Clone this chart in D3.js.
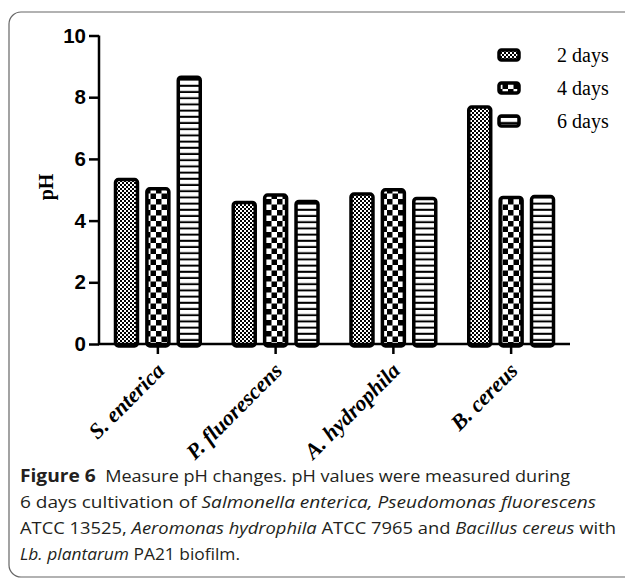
<!DOCTYPE html>
<html><head><meta charset="utf-8">
<script src="https://cdn.jsdelivr.net/npm/d3@7"></script>
<style>body{margin:0;background:#fff}svg{display:block}</style>
</head><body>
<svg id="c" width="625" height="579"></svg>
<script>
const categories = ["S. enterica", "P. fluorescens", "A. hydrophila", "B. cereus"];
const seriesNames = ["2 days", "4 days", "6 days"];
const day2 = [5.33, 4.59, 4.86, 7.68];
const day4 = [5.03, 4.83, 5.00, 4.75];
const day6 = [8.65, 4.62, 4.72, 4.78];
const yTicks = [0, 2, 4, 6, 8, 10];
const seriesValues = [day2, day4, day6];

const svg = d3.select("#c");
const defs = svg.append("defs");
// fine checker
const p2 = defs.append("pattern").attr("id","p0").attr("patternUnits","userSpaceOnUse").attr("width",4).attr("height",4);
p2.append("rect").attr("width",4).attr("height",4).attr("fill","#fff");
p2.append("rect").attr("width",2).attr("height",2).attr("fill","#000");
p2.append("rect").attr("x",2).attr("y",2).attr("width",2).attr("height",2).attr("fill","#000");
// coarse checker
const p4 = defs.append("pattern").attr("id","p1").attr("patternUnits","userSpaceOnUse").attr("width",11).attr("height",11).attr("x",2).attr("y",1);
p4.append("rect").attr("width",11).attr("height",11).attr("fill","#fff");
p4.append("rect").attr("width",5.5).attr("height",5.5).attr("fill","#000");
p4.append("rect").attr("x",5.5).attr("y",5.5).attr("width",5.5).attr("height",5.5).attr("fill","#000");
// horizontal stripes
const p6 = defs.append("pattern").attr("id","p2").attr("patternUnits","userSpaceOnUse").attr("width",6).attr("height",6.2);
p6.append("rect").attr("width",6).attr("height",6.2).attr("fill","#fff");
p6.append("rect").attr("y",4.2).attr("width",6).attr("height",2).attr("fill","#000");

// frame
svg.append("rect").attr("x",9).attr("y",12).attr("width",640).attr("height",565).attr("rx",12)
  .attr("fill","none").attr("stroke","#666").attr("stroke-width",1.2);

const x0 = d3.scaleBand().domain(categories).range([99, 570]);
const x1 = d3.scaleBand().domain(seriesNames).range([16.5, 101.25]).paddingInner(0.3);
const y = d3.scaleLinear().domain([0, 10]).range([344, 35.5]);

const data = [];
categories.forEach((c, i) => seriesNames.forEach((s, j) => data.push({c, s, j, v: seriesValues[j][i]})));

svg.append("g").selectAll("rect").data(data).join("rect")
  .attr("x", d => x0(d.c) + x1(d.s))
  .attr("y", d => y(d.v))
  .attr("width", x1.bandwidth())
  .attr("height", d => y(0) - y(d.v) + 2)
  .attr("rx", 3)
  .attr("fill", d => `url(#p${d.j})`)
  .attr("stroke", "#000").attr("stroke-width", 3.5);

// axes
const yAxis = svg.append("g").attr("transform","translate(99,0)")
  .call(d3.axisLeft(y).tickValues(yTicks).tickSize(10).tickSizeOuter(0).tickPadding(3));
yAxis.select(".domain").attr("stroke-width",2.5).attr("d","M0,"+y(10)+"V"+(y(0)+1));
yAxis.selectAll(".tick line").attr("stroke-width",2.5);
yAxis.selectAll(".tick text").attr("font-family","Liberation Sans, Arial").attr("font-weight","bold").attr("font-size",20.5).attr("fill","#000");

const xAxis = svg.append("g").attr("transform","translate(0,344)")
  .call(d3.axisBottom(x0).tickSize(10).tickSizeOuter(0));
xAxis.select(".domain").attr("stroke-width",2.5).attr("d","M98,0H570");
xAxis.selectAll(".tick line").attr("stroke-width",2.5);
xAxis.selectAll(".tick text")
  .attr("font-family","Liberation Serif, Times New Roman").attr("font-weight","bold").attr("font-style","italic")
  .attr("font-size",22).attr("fill","#000")
  .attr("text-anchor","end").attr("dy",0).attr("y",0)
  .attr("transform","translate(8,28) rotate(-45)");
svg.selectAll(".domain").attr("stroke","#000");
svg.selectAll(".tick line").attr("stroke","#000");

// y label
svg.append("text").attr("transform","translate(53,187) rotate(-90)").attr("text-anchor","middle")
  .attr("font-family","Liberation Serif, Times New Roman").attr("font-weight","bold").attr("font-size",20).text("pH");

// legend
const lg = svg.append("g");
seriesNames.forEach((s, j) => {
  const ly = 55 + j * 33;
  lg.append("rect").attr("x",499).attr("y",ly-5).attr("width",20).attr("height",10).attr("rx",2.5)
    .attr("fill",`url(#p${j})`).attr("stroke","#000").attr("stroke-width",3.5);
  lg.append("text").attr("x",557).attr("y",ly+6.5).attr("font-family","Liberation Serif, Times New Roman")
    .attr("font-size",20).text(s);
});

// caption
const cap = svg.append("g").attr("font-family","Open Sans, Noto Sans").attr("font-size",16.5).attr("fill","#231f20");
const lines = [
  {y:482, w:550, parts:[["Figure 6","b"],["  Measure pH changes. pH values were measured during",""]]},
  {y:508, w:576, parts:[["6 days cultivation of ",""],["Salmonella enterica, Pseudomonas fluorescens","i"]]},
  {y:534, w:596, parts:[["ATCC 13525, ",""],["Aeromonas hydrophila","i"],[" ATCC 7965 and ",""],["Bacillus cereus","i"],[" with",""]]},
  {y:560, w:220, parts:[["Lb. plantarum","i"],[" PA21 biofilm.",""]]}
];
lines.forEach(L => {
  const t = cap.append("text").attr("x",20).attr("y",L.y).attr("xml:space","preserve").style("white-space","pre");
  L.parts.forEach(([s,st]) => {
    const ts = t.append("tspan").text(s);
    if (st==="b") ts.attr("font-weight","bold").attr("font-size",17.5);
    if (st==="i") ts.attr("font-style","italic");
  });
  t.attr("textLength", L.w).attr("lengthAdjust","spacingAndGlyphs");
});
</script>
</body></html>
